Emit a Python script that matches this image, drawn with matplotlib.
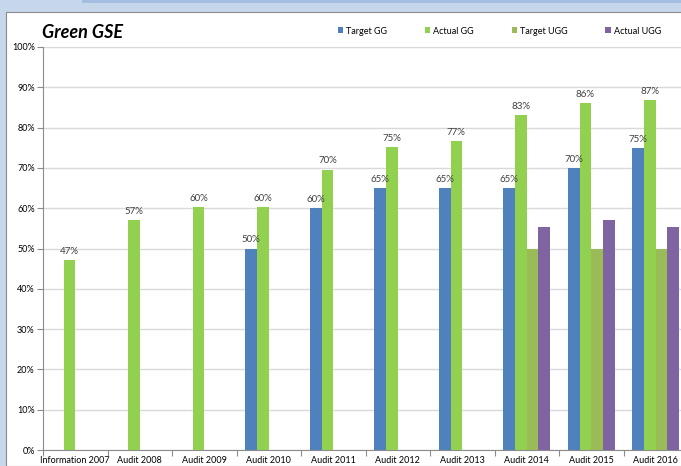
import matplotlib
matplotlib.use("Agg")
import matplotlib.pyplot as plt
import numpy as np
from matplotlib.patches import Rectangle
from matplotlib.ticker import FixedLocator, PercentFormatter

plt.rcParams['font.family'] = ['Lato', 'DejaVu Sans']

categories = ["Information 2007", "Audit 2008", "Audit 2009", "Audit 2010", "Audit 2011",
              "Audit 2012", "Audit 2013", "Audit 2014", "Audit 2015", "Audit 2016"]
target_gg = [np.nan, np.nan, np.nan, 50, 60, 65, 65, 65, 70, 75]
actual_gg = [47.2, 57.1, 60.3, 60.4, 69.6, 75.1, 76.6, 83.1, 86.0, 86.9]
target_ugg = [np.nan] * 7 + [50, 50, 50]
actual_ugg = [np.nan] * 7 + [55.4, 57.1, 55.4]
series_names = ["Target GG", "Actual GG", "Target UGG", "Actual UGG"]
colors = ["#4f81bd", "#92d050", "#9bbb59", "#8064a2"]

W, H = 681, 466
fig = plt.figure(figsize=(W / 100, H / 100), dpi=100)
fig.patch.set_facecolor("#c6d7eb")

# white chart area with grey border
fig.add_artist(Rectangle((6 / W, 0), 1, 1 - 12 / H, transform=fig.transFigure,
                         facecolor="white", edgecolor="#8c8c8c", lw=0.8, zorder=0))
# darker blue strip at top
fig.add_artist(Rectangle((82 / W, 1 - 3 / H), 1, 3 / H, transform=fig.transFigure,
                         facecolor="#a4bee2", edgecolor="none", zorder=0))

ax = fig.add_axes([43 / W, (H - 450) / H, 645 / W, 403 / H])
ax.set_facecolor("none")

x = np.arange(len(categories))
w = 1 / 5.5
data = [target_gg, actual_gg, target_ugg, actual_ugg]
bars = []
for i, (vals, c) in enumerate(zip(data, colors)):
    b = ax.bar(x + (i - 1.5) * w, vals, width=w, color=c, label=series_names[i], zorder=3)
    bars.append(b)
    if i < 2:
        for xi, v in zip(x + (i - 1.5) * w, vals):
            if not np.isnan(v):
                ax.text(xi, v + 1.0, f"{v:.0f}%", ha="center", va="bottom",
                        fontsize=7, color="#404040", zorder=4)

ax.set_xlim(-0.5, len(categories) - 0.5)
ax.set_ylim(0, 100)
ax.set_yticks(np.arange(0, 101, 10))
ax.yaxis.set_major_formatter(PercentFormatter(decimals=0))
ax.set_xticks(x)
ax.set_xticklabels(categories)
ax.xaxis.set_minor_locator(FixedLocator(np.arange(-0.5, len(categories), 1)))
ax.tick_params(axis="x", which="major", length=0, labelsize=6.5, pad=4, colors="#000000")
ax.tick_params(axis="x", which="minor", length=4, color="#8c8c8c", width=0.8)
ax.tick_params(axis="y", length=4, color="#8c8c8c", width=0.8, labelsize=6.5, pad=2)
ax.grid(axis="y", color="#d9d9d9", lw=1.0, zorder=0)
for s in ["top", "right"]:
    ax.spines[s].set_visible(False)
for s in ["left", "bottom"]:
    ax.spines[s].set_color("#8c8c8c")
    ax.spines[s].set_linewidth(0.8)

fig.text(42 / W, 1 - 33 / H, "Green GSE", fontsize=13, fontweight="bold", fontstyle="italic",
         va="center", ha="left")

fig.legend(handles=bars, labels=series_names, loc="center left", ncol=4,
           bbox_to_anchor=(338 / W, 1 - 31 / H), frameon=False, fontsize=6.5,
           handlelength=0.6, handleheight=0.6, handletextpad=0.3, columnspacing=4.2,
           borderaxespad=0, borderpad=0)

fig.savefig("out.png", dpi=100)
